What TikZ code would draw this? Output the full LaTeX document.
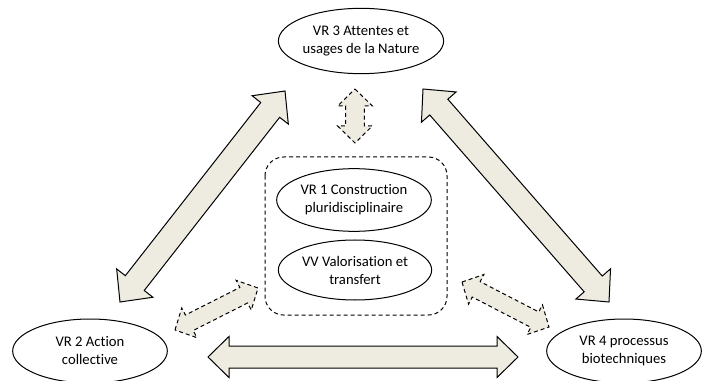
\documentclass[tikz,border=0pt]{standalone}
\usepackage{fontspec}
\setmainfont{Carlito}[Ligatures=NoCommon]
\usetikzlibrary{calc, shapes.geometric}
\definecolor{tan}{HTML}{EEECE1}
% fat double arrow: style, from, to, half shaft, half head, head length
\newcommand{\fatArrow}[6]{%
    \draw[#1] (#2)
        -- ($(#2)!#6!(#3)!#5!90:(#3)$) -- ($(#2)!#6!(#3)!#4!90:(#3)$)
        -- ($(#3)!#6!(#2)!#4!-90:(#2)$) -- ($(#3)!#6!(#2)!#5!-90:(#2)$)
        -- (#3)
        -- ($(#3)!#6!(#2)!#5!90:(#2)$) -- ($(#3)!#6!(#2)!#4!90:(#2)$)
        -- ($(#2)!#6!(#3)!#4!-90:(#3)$) -- ($(#2)!#6!(#3)!#5!-90:(#3)$)
        -- cycle;
}
\tikzset{
    bubble/.style={draw, fill=white, ellipse, line width=0.75pt, inner sep=0pt,
        align=center, font=\fontsize{11}{13.5}\selectfont,
        minimum width=116pt, minimum height=47pt},
    bigA/.style={draw=black, fill=tan, line width=0.75pt, line join=miter},
    dashA/.style={bigA, dash pattern=on 3pt off 2.25pt},
    frame/.style={draw, line width=0.75pt, dash pattern=on 3pt off 2.25pt, rounded corners=14pt}
}
\begin{document}
\begin{tikzpicture}[x=0.75pt, y=-0.75pt]
    \useasboundingbox (0,0) rectangle (707,381);
    % the group in the middle
    \draw[frame] (265,157) rectangle (447,315);
    \node[bubble] (vr1) at (354,200) {VR 1 Construction\\pluridisciplinaire};
    \node[bubble, minimum width=115pt, minimum height=45pt] (vv) at (355,270) {VV Valorisation et\\transfert};
    % the three corners
    \node[bubble, minimum width=122pt, minimum height=49pt] (vr3) at (361,41) {VR 3 Attentes et\\usages de la Nature};
    \node[bubble, minimum height=48pt] (vr2) at (90,351) {VR 2 Action\\collective};
    \node[bubble, minimum height=48pt] (vr4) at (624,351) {VR 4 processus\\biotechniques};
    % arrow ends
    \coordinate (a32) at (285,91);
    \coordinate (a23) at (120,302);
    \coordinate (a34) at (423,89);
    \coordinate (a43) at (609,302);
    \coordinate (a24) at (208,357);
    \coordinate (a42) at (518,357);
    \coordinate (d3) at (355,89);
    \coordinate (d1) at (355,143);
    \coordinate (d2) at (175,330);
    \coordinate (d12) at (258,288);
    \coordinate (d14) at (462,282);
    \coordinate (d4) at (549,327);
    \fatArrow{bigA}{a32}{a23}{9pt}{17.25pt}{18pt}
    \fatArrow{bigA}{a34}{a43}{9pt}{17.25pt}{18pt}
    \fatArrow{bigA}{a24}{a42}{8.25pt}{15.4pt}{15.75pt}
    \fatArrow{dashA}{d3}{d1}{7pt}{13pt}{12.75pt}
    \fatArrow{dashA}{d2}{d12}{6.5pt}{12.5pt}{12pt}
    \fatArrow{dashA}{d14}{d4}{6.5pt}{12.5pt}{12pt}
\end{tikzpicture}
\end{document}
